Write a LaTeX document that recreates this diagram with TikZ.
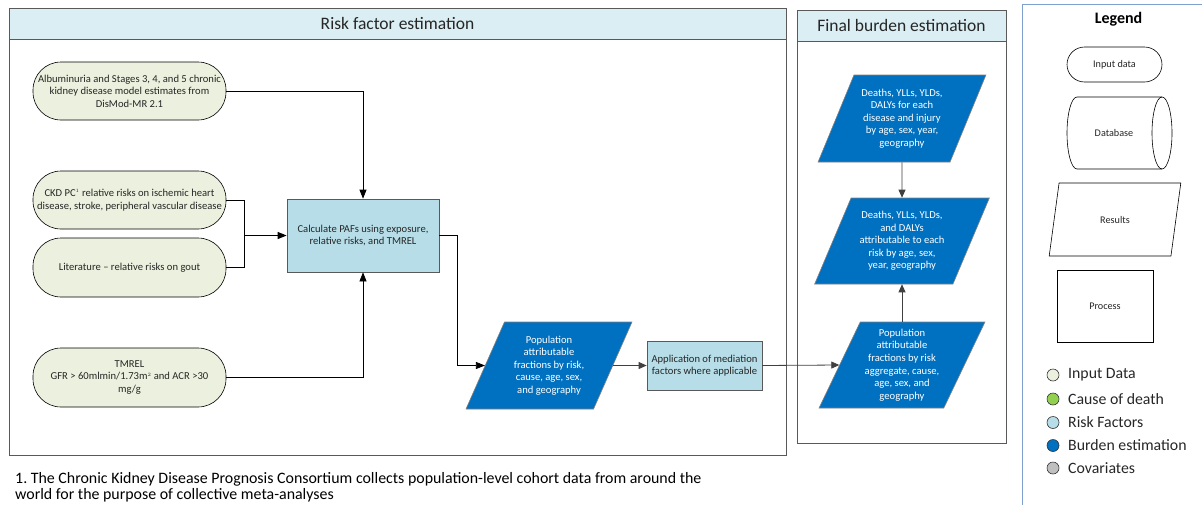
\documentclass[tikz,border=0pt]{standalone}
\usepackage{fontspec}
\setmainfont{Carlito}
\usetikzlibrary{shapes.geometric,arrows.meta}
\definecolor{inputc}{HTML}{EBF1DE}
\definecolor{riskc}{HTML}{B7DEE8}
\definecolor{burdenc}{HTML}{0070C0}
\definecolor{causec}{HTML}{92D050}
\definecolor{covc}{HTML}{BFBFBF}
\definecolor{headc}{HTML}{DAEEF3}
\definecolor{panelline}{HTML}{595959}
\definecolor{legline}{HTML}{7F9FCF}
\definecolor{txt}{HTML}{262626}
\definecolor{garrow}{HTML}{404040}
\frenchspacing
\tikzset{
  nodefont/.style={font=\fontsize{10.6}{12.6}\selectfont},
  inputbox/.style={draw=black, fill=inputc, rounded corners=28pt, minimum width=193pt,
    minimum height=58pt, align=center, nodefont, text=txt, inner sep=0pt, line width=0.6pt},
  procbox/.style={draw=panelline, fill=riskc, align=center, nodefont, text=txt,
    inner sep=0pt, line width=0.7pt},
  resbox/.style={trapezium, trapezium left angle=63, trapezium right angle=117,
    trapezium stretches=true, draw=gray, fill=burdenc, text=white, align=center,
    nodefont, inner sep=0pt, line width=0.6pt},
  panel/.style={draw=panelline, line width=0.8pt},
  header/.style={draw=panelline, fill=headc, line width=0.8pt},
  blk/.style={draw=black, line width=0.7pt, -{Triangle[length=9pt,width=7pt]}},
  blkline/.style={draw=black, line width=0.7pt},
  gry/.style={draw=garrow, line width=0.8pt, -{Triangle[length=8pt,width=7pt]}},
  legshape/.style={draw=black, fill=white, line width=0.6pt, align=center,
    font=\fontsize{10.2}{12}\selectfont, text=txt, inner sep=0pt},
  dot/.style={circle, draw=black!80, line width=0.6pt, minimum size=12pt, inner sep=0pt},
  legtext/.style={anchor=west, font=\fontsize{15.8}{18}\selectfont, text=txt, inner sep=0pt},
}
\begin{document}
\begin{tikzpicture}[x=1pt,y=-1pt]
\useasboundingbox (0,0) rectangle (1202,504);
\clip (0,0) rectangle (1202,504);

% panels
\draw[panel, fill=white] (9,8) rectangle (786,455);
\draw[header] (9,8) rectangle (786,39);
\node[font=\fontsize{17.5}{20}\selectfont, text=txt] (t1) at (397.5,23.5) {Risk factor estimation};

\draw[panel, fill=white] (797,10) rectangle (1006,443);
\draw[header] (797,10) rectangle (1006,41);
\node[font=\fontsize{17.5}{20}\selectfont, text=txt] (t2) at (901.5,25.5) {Final burden estimation};

\draw[draw=legline, line width=0.8pt] (1022,4) rectangle (1215,520);
\node[font=\bfseries\fontsize{16}{18}\selectfont, text=black] (lg) at (1118.5,19) {Legend};

% input nodes
\node[inputbox] (alb) at (129.5,91) {Albuminuria and Stages 3, 4, and 5 chronic\\kidney disease model estimates from\\DisMod-MR 2.1};
\node[inputbox] (ckd) at (129.5,200) {CKD PC$^{\scriptscriptstyle 1}$ relative risks on ischemic heart\\disease, stroke, peripheral vascular disease};
\node[inputbox, minimum height=59pt] (lit) at (129.5,267.5) {Literature -- relative risks on gout};
\node[inputbox, minimum height=59pt] (tmr) at (129.5,377.5) {TMREL\\GFR {>} 60mlmin/1.73m$^{\scriptscriptstyle 2}$ and ACR {>}30\\mg/g};

% process
\node[procbox, minimum width=152pt, minimum height=73pt] (calc) at (363,235.5) {Calculate PAFs using exposure,\\relative risks, and TMREL};
\node[resbox, minimum width=166pt, minimum height=87pt] (paf) at (549,365.5) {Population\\attributable\\fractions by risk,\\cause, age, sex,\\and geography};
\node[procbox, minimum width=115pt, minimum height=49pt] (app) at (704.5,365.5) {Application of mediation\\factors where applicable};

% final burden
\node[resbox, minimum width=168pt, minimum height=87pt] (f1) at (902,118.5) {Deaths, YLLs, YLDs,\\DALYs for each\\disease and injury\\by age, sex, year,\\geography};
\node[resbox, minimum width=175pt, minimum height=86pt] (f2) at (902,241) {Deaths, YLLs, YLDs,\\and DALYs\\attributable to each\\risk by age, sex,\\year, geography};
\node[resbox, minimum width=166pt, minimum height=86pt] (f3) at (902,365) {Population\\attributable\\fractions by risk\\aggregate, cause,\\age, sex, and\\geography};

% connectors
\coordinate (m) at (244,235.5);
\coordinate (c1) at (457,235.5);
\draw[blk] (alb.east) -| (calc.north);
\draw[blkline] (ckd.east) -| (m);
\draw[blkline] (lit.east) -| (m);
\draw[blk, line width=1.1pt] (m) -- (calc.west);
\draw[blk] (tmr.east) -| (calc.south);
\draw[blk] (calc.east) -- (c1) |- (paf.west);
\draw[gry] (paf.east) -- (app.west);
\draw[gry] (app.east) -- (f3.west);
\draw[gry] (f1.south) -- (f2.north);
\draw[gry] (f3.north) -- (f2.south);

% legend shapes
\node[legshape, rounded corners=17.5pt, minimum width=95pt, minimum height=35pt] (lin) at (1114.5,64.5) {Input data};
\draw[black, line width=0.6pt, fill=white] (1077,97) -- (1162,97) arc[start angle=90, end angle=-90, x radius=10pt, y radius=36pt] -- (1077,169) arc[start angle=270, end angle=90, x radius=10pt, y radius=36pt] -- cycle;
\draw[black, line width=0.6pt] (1162,97) arc[start angle=90, end angle=270, x radius=10pt, y radius=36pt];
\node[font=\fontsize{10.2}{12}\selectfont, text=txt] (ldb) at (1114,133) {Database};
\node[legshape, trapezium, trapezium left angle=70, trapezium right angle=110, trapezium stretches=true, minimum width=132pt, minimum height=73pt] (lres) at (1115,219.5) {Results};
\node[legshape, minimum width=96pt, minimum height=72pt] (lproc) at (1105,306) {Process};

% legend colours
\node[dot, fill=inputc] (d1) at (1053,375) {};
\node[legtext] (e1) at (1068,375) {Input Data};
\node[dot, fill=causec] (d2) at (1053,399) {};
\node[legtext] (e2) at (1068,399) {Cause of death};
\node[dot, fill=riskc] (d3) at (1053,422.5) {};
\node[legtext] (e3) at (1068,422.5) {Risk Factors};
\node[dot, fill=burdenc] (d4) at (1053,445.5) {};
\node[legtext] (e4) at (1068,445.5) {Burden estimation};
\node[dot, fill=covc] (d5) at (1053,468) {};
\node[legtext] (e5) at (1068,468) {Covariates};

% footnote
\node[anchor=north west, align=left, inner sep=0pt, font=\fontsize{15.9}{16.5}\selectfont, text=black] (fn) at (15,472) {1. The Chronic Kidney Disease Prognosis Consortium collects population-level cohort data from around the\\world for the purpose of collective meta-analyses};
\end{tikzpicture}
\end{document}
